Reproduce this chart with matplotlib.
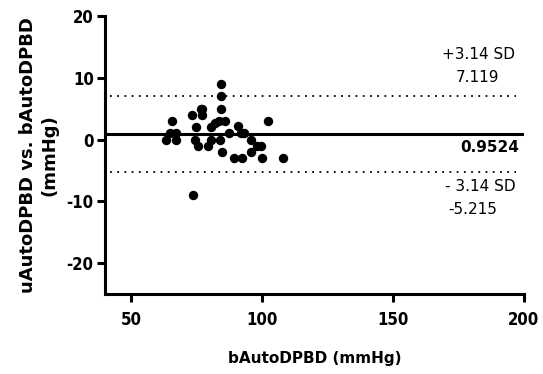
import matplotlib
matplotlib.use("Agg")
import matplotlib.pyplot as plt

plt.rcParams["axes.unicode_minus"] = False

# mean of both methods (x) vs difference (y)
media = [84.2, 84.2, 84.2, 76.7, 77.0, 73.2, 77.0, 65.7, 83.5, 85.7, 82.0,
         102.4, 75.0, 80.7, 90.7, 64.8, 67.3, 87.3, 92.0, 93.0, 63.2, 67.0,
         74.4, 80.7, 83.8, 95.7, 75.7, 79.4, 99.5, 98.0, 95.7, 84.8, 89.5,
         92.4, 100.0, 107.9, 73.5]
diferenca = [9, 7, 5, 5, 5, 4, 4, 3, 3, 3, 2.7,
             3, 2, 2, 2.2, 1, 1, 1, 1, 1, 0, 0,
             0, 0, 0, 0, -1, -1, -1, -1, -2, -2, -3,
             -3, -3, -3, -9]

vies = 0.9524
lim_sup = 7.119
lim_inf = -5.215

xticks = [50, 100, 150, 200]
yticks = [-20, -10, 0, 10, 20]

fig = plt.figure(figsize=(5.43, 3.74), dpi=100)
ax = fig.add_axes([0.193, 0.214, 0.772, 0.743])

ax.scatter(media, diferenca, s=46, color="black", zorder=3, linewidths=0)
ax.plot([40, 199.5], [vies, vies], color="black", lw=2.2)
ax.plot([42, 197], [lim_sup, lim_sup], color="black", lw=1.3, linestyle=(0, (1, 3)))
ax.plot([42, 197], [lim_inf, lim_inf], color="black", lw=1.3, linestyle=(0, (1, 3)))

ax.text(182.7, 13.8, "+3.14 SD", ha="center", va="center", fontsize=11)
ax.text(182.4, 10.0, "7.119", ha="center", va="center", fontsize=11)
ax.text(187, -1.3, "0.9524", ha="center", va="center", fontsize=11, fontweight="bold")
ax.text(183.5, -7.6, "- 3.14 SD", ha="center", va="center", fontsize=11)
ax.text(180.5, -11.3, "-5.215", ha="center", va="center", fontsize=11)

ax.set_xlim(40, 200)
ax.set_ylim(-25, 20)
ax.set_xticks(xticks)
ax.set_yticks(yticks)
ax.spines["top"].set_visible(False)
ax.spines["right"].set_visible(False)
for s in ["left", "bottom"]:
    ax.spines[s].set_linewidth(2.2)
ax.tick_params(width=2.2, length=6, labelsize=12, direction="out", pad=2)
ax.tick_params(axis="x", pad=6)
for lbl in ax.get_xticklabels() + ax.get_yticklabels():
    lbl.set_fontweight("bold")
    lbl.set_fontstretch("condensed")

ax.set_xlabel("bAutoDPBD (mmHg)", fontsize=11, fontweight="bold", labelpad=16)
ax.set_ylabel("uAutoDPBD vs. bAutoDPBD\n(mmHg)", fontsize=13, fontweight="bold", labelpad=6)

fig.savefig("out.png", dpi=100)
